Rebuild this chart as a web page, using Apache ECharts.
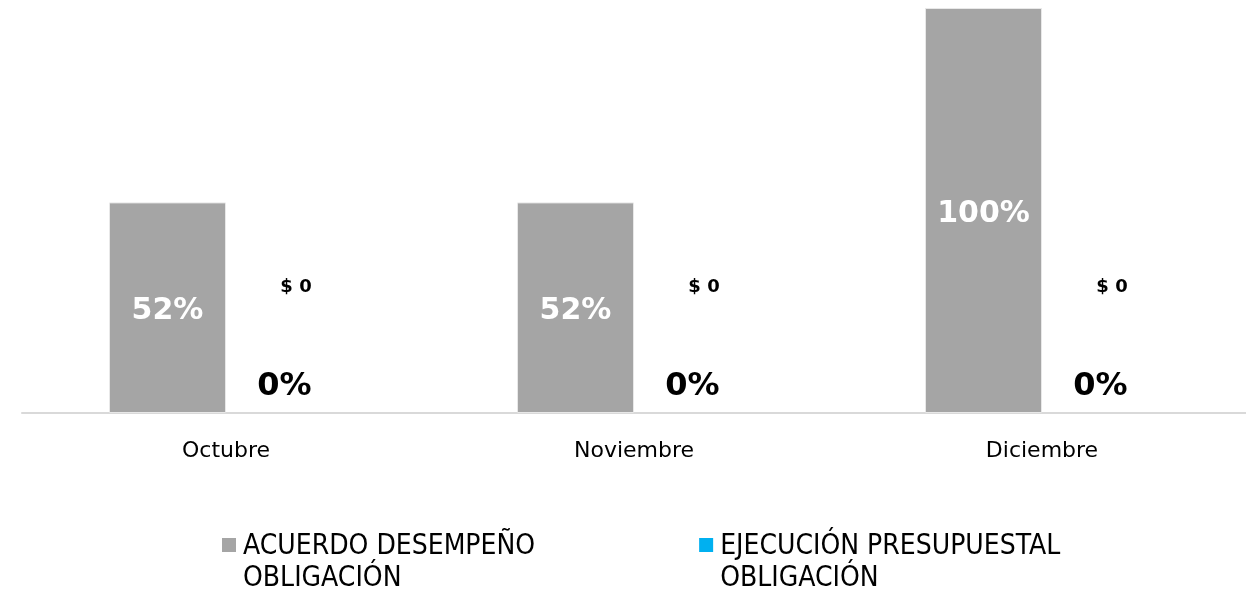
<!DOCTYPE html>
<html>
<head>
<meta charset="utf-8">
<script src="https://cdn.jsdelivr.net/npm/echarts@6/dist/echarts.min.js"></script>
<style>
html, body { margin: 0; padding: 0; background: #fff; }
#main { width: 1246px; height: 591px; }
</style>
</head>
<body>
<div id="main"></div>
<script>
// datos del gráfico
var meses = ['Octubre', 'Noviembre', 'Diciembre'];
var acuerdo = [52, 52, 100];
var ejecucion = [0, 0, 0];
var presupuesto = [0, 0, 0];

var FONT = 'DejaVu Sans';
// cuadro de leyenda alineado con la primera línea del texto
var ICONO = 'path://M0,0H14V14H0Z M0,49.9H0.1V50H0Z';

function myChartGC() {
	var myChart = echarts.init(document.getElementById('main'));

	var option = {
		animation : false,
		textStyle : { fontFamily : FONT },
		grid : { left : 22, right : 0, top : 8, bottom : 178, containLabel : false },
		legend : {
			top : 526,
			left : 217,
			itemGap : 164,
			itemWidth : 14,
			itemHeight : 50,
			icon : ICONO,
			itemStyle : { borderWidth : 0 },
			data : [ 'ACUERDO DESEMPEÑO\nOBLIGACIÓN', 'EJECUCIÓN PRESUPUESTAL\nOBLIGACIÓN' ],
			textStyle : { fontFamily : 'DejaVu Sans Condensed', fontSize : 28, color : '#000', lineHeight : 32, padding : [0, 0, 0, 2] }
		},
		xAxis : {
			type : 'category',
			data : meses,
			axisLine : { lineStyle : { color : '#d9d9d9', width : 2 } },
			axisTick : { show : false },
			axisLabel : { fontSize : 22, color : '#000', margin : 27 }
		},
		yAxis : [ {
			type : 'value', min : 0, max : 100, show : false
		}, {
			type : 'value', min : -31.1, max : 68.9, show : false
		} ],
		series : [ {
			name : 'ACUERDO DESEMPEÑO\nOBLIGACIÓN',
			type : 'bar',
			data : acuerdo,
			barWidth : 117,
			barGap : '0%',
			itemStyle : { color : '#a5a5a5', borderColor : '#e8e8e8', borderWidth : 1 },
			label : {
				show : true, position : 'inside', offset : [ 0, 4 ], formatter : '{c}%',
				color : '#fff', fontSize : 30, fontWeight : 'bold'
			}
		}, {
			name : 'EJECUCIÓN PRESUPUESTAL\nOBLIGACIÓN',
			type : 'bar',
			data : ejecucion,
			barWidth : 117,
			itemStyle : { color : '#00b0f0' },
			label : {
				show : true, position : 'top', distance : 10, formatter : '{c}%',
				color : '#000', fontSize : 32, fontWeight : 'bold'
			}
		}, {
			name : 'presupuesto',
			type : 'line',
			yAxisIndex : 1,
			data : presupuesto,
			symbol : 'rect',
			symbolSize : 1,
			itemStyle : { color : 'rgba(0,0,0,0)' },
			lineStyle : { opacity : 0 },
			label : {
				show : true, position : 'inside', offset : [ 70, 0 ], formatter : '$ {c}',
				color : '#000', fontSize : 18, fontWeight : 'bold'
			}
		} ]
	};
	myChart.setOption(option);
}

myChartGC();
</script>
</body>
</html>
